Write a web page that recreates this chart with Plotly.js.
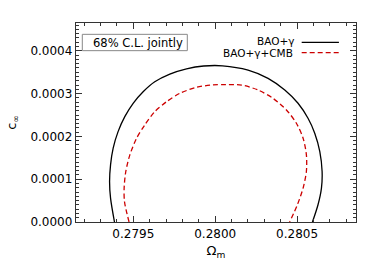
<!DOCTYPE html>
<html>
<head>
<meta charset="utf-8">
<script src="https://cdn.plot.ly/plotly-3.0.1.min.js"></script>
<style>html,body{margin:0;padding:0;background:#fff;}#chart{width:379px;height:271px;}</style>
</head>
<body>
<div id="chart"></div>
<script>
// BAO+gamma contour (Omega_m, c_inf)
const baoX = [0.279385,0.279361,0.279355,0.279361,0.279377,0.279407,0.279448,0.279499,0.279560,0.279631,0.279723,0.279825,0.279930,0.280045,0.280201,0.280323,0.280425,0.280506,0.280567,0.280608,0.280639,0.280653,0.280649,0.280628,0.280594];
const baoY = [0.0,0.0000559,0.0000946,0.0001336,0.0001725,0.0002112,0.0002462,0.0002774,0.0003044,0.0003277,0.0003457,0.000358,0.0003645,0.000365,0.000355,0.0003357,0.0003084,0.0002774,0.0002424,0.0002075,0.0001646,0.000118,0.0000793,0.0000403,0.0];
// BAO+gamma+CMB contour
const cmbX = [0.279474,0.279446,0.279444,0.279454,0.279479,0.279520,0.279570,0.279631,0.279703,0.279784,0.279886,0.279987,0.280065,0.280161,0.280262,0.280353,0.280435,0.280496,0.280537,0.280557,0.280557,0.280537,0.280502,0.280455];
const cmbY = [0.0,0.000048,0.0000793,0.000118,0.0001569,0.0001958,0.0002268,0.0002578,0.0002811,0.0003007,0.0003147,0.0003205,0.000321,0.00032,0.0003084,0.000289,0.0002618,0.0002308,0.0001958,0.0001569,0.000118,0.0000793,0.0000403,0.0];
const xTicks = [0.2795,0.2800,0.2805];
const xTickText = ["0.2795","0.2800","0.2805"];
const yTicks = [0,0.0001,0.0002,0.0003,0.0004];
const yTickText = ["0.0000","0.0001","0.0002","0.0003","0.0004"];
const seriesNames = ["BAO+γ","BAO+γ+CMB"];
const boxLabel = "68% C.L. jointly";

const font = {family:"DejaVu Sans", size:12, color:"#000"};
const traces = [
  {x:baoX, y:baoY, mode:"lines", name:seriesNames[0], line:{color:"#000", width:1.3, shape:"spline", smoothing:0.8}, showlegend:false},
  {x:cmbX, y:cmbY, mode:"lines", name:seriesNames[1], line:{color:"#cc0000", width:1.3, dash:"5px,3px", shape:"spline", smoothing:0.8}, showlegend:false}
];
const axisCommon = {
  showgrid:false, zeroline:false, showline:true, linecolor:"#333", linewidth:1.2, mirror:"ticks",
  ticks:"inside", ticklen:6, tickwidth:1, tickcolor:"#333", tickfont:font
};
const layout = {
  width:379, height:271,
  margin:{l:76, r:23, t:23, b:49},
  paper_bgcolor:"#fff", plot_bgcolor:"#fff",
  font:font,
  xaxis:Object.assign({}, axisCommon, {
    range:[0.27915,0.28086], tickmode:"array", tickvals:xTicks, ticktext:xTickText,
    minor:{dtick:0.0001, ticks:"inside", ticklen:3, tickcolor:"#333"},
    title:{text:"Ω<sub>m</sub>", font:{family:"DejaVu Sans", size:13}, standoff:6}
  }),
  yaxis:Object.assign({}, axisCommon, {
    range:[0,0.000465], tickmode:"array", tickvals:yTicks, ticktext:yTickText,
    minor:{dtick:0.00001, ticks:"inside", ticklen:3, tickcolor:"#333"},
    title:{text:"c<sub>∞</sub>", font:{family:"DejaVu Sans", size:13}, standoff:10}
  }),
  shapes:[
    {type:"rect", xref:"paper", yref:"paper", x0:0.0225, x1:0.3975, y0:0.861, y1:0.943, line:{color:"#888", width:1}},
    {type:"line", xref:"paper", yref:"paper", x0:0.806, x1:0.939, y0:0.903, y1:0.903, line:{color:"#000", width:1.3}},
    {type:"line", xref:"paper", yref:"paper", x0:0.806, x1:0.939, y0:0.851, y1:0.851, line:{color:"#cc0000", width:1.3, dash:"5px,3px"}}
  ],
  annotations:[
    {xref:"paper", yref:"paper", x:0.2214, y:0.902, text:boxLabel, showarrow:false, xanchor:"center", yanchor:"middle", font:{family:"DejaVu Sans", size:11.5, color:"#000"}},
    {xref:"paper", yref:"paper", x:0.786, y:0.908, text:seriesNames[0], showarrow:false, xanchor:"right", yanchor:"middle", font:{family:"DejaVu Sans", size:10.5, color:"#000"}},
    {xref:"paper", yref:"paper", x:0.782, y:0.851, text:seriesNames[1], showarrow:false, xanchor:"right", yanchor:"middle", font:{family:"DejaVu Sans", size:10.5, color:"#000"}}
  ]
};
Plotly.newPlot("chart", traces, layout, {displayModeBar:false, staticPlot:true});
</script>
</body>
</html>
